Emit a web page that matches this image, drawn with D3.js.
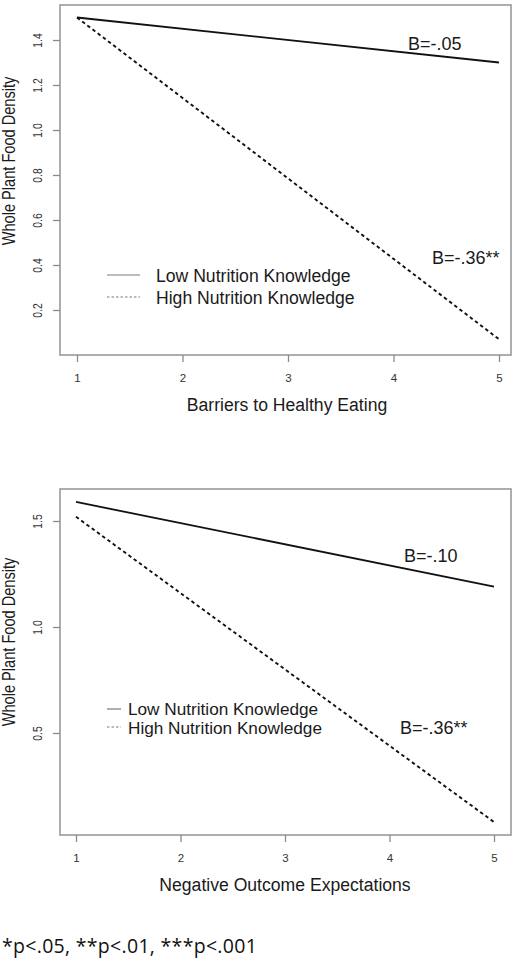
<!DOCTYPE html>
<html>
<head>
<meta charset="utf-8">
<script src="https://cdn.jsdelivr.net/npm/d3@7"></script>
<style>
  html, body { margin: 0; padding: 0; background: #fff; }
  svg { display: block; }
</style>
</head>
<body>
<svg id="chart" width="520" height="960"></svg>
<script>
// ---------- data ----------
const xValues = [1, 5];
const xTicks = [1, 2, 3, 4, 5];
const seriesNames = ["Low Nutrition Knowledge", "High Nutrition Knowledge"];
const yTitle = "Whole Plant Food Density";

const topXTitle = "Barriers to Healthy Eating";
const topLow = [1.50, 1.30];
const topHigh = [1.50, 0.07];
const topYTicks = [0.2, 0.4, 0.6, 0.8, 1.0, 1.2, 1.4];
const topLabels = ["B=-.05", "B=-.36**"];

const bottomXTitle = "Negative Outcome Expectations";
const bottomLow = [1.59, 1.19];
const bottomHigh = [1.52, 0.08];
const bottomYTicks = [0.5, 1.0, 1.5];
const bottomLabels = ["B=-.10", "B=-.36**"];

const footnote = "*p<.05, **p<.01, ***p<.001";

// ---------- drawing ----------
const svg = d3.select("#chart");
const FONT = "'Liberation Sans', Arial, sans-serif";
const SQ = 0.83; // length compression of rotated text

function panel(cfg) {
  const g = svg.append("g");
  const x = d3.scaleLinear().domain([1, 5]).range(cfg.xRange);
  const y = d3.scaleLinear().domain(cfg.yDomain).range(cfg.yRange);

  // box
  g.append("rect")
    .attr("x", cfg.box[0]).attr("y", cfg.box[1])
    .attr("width", cfg.box[2] - cfg.box[0]).attr("height", cfg.box[3] - cfg.box[1])
    .attr("fill", "none").attr("stroke", "#9a9a9a").attr("stroke-width", 1.6);

  // x axis
  const xa = g.append("g").attr("transform", `translate(0,${cfg.box[3]})`)
    .call(d3.axisBottom(x).tickValues(xTicks).tickFormat(d3.format("d")).tickSize(7).tickSizeOuter(0));
  xa.select(".domain").remove();
  xa.selectAll(".tick line").attr("stroke", "#8a8a8a").attr("stroke-width", 1.3);
  xa.selectAll(".tick text").attr("font-family", FONT).attr("font-size", 11.5)
    .attr("fill", "#333").attr("y", cfg.xTickDy).attr("dy", 0);

  // y axis
  const ya = g.append("g").attr("transform", `translate(${cfg.box[0]},0)`)
    .call(d3.axisLeft(y).tickValues(cfg.yTicks).tickFormat(d3.format(".1f")).tickSize(7).tickSizeOuter(0));
  ya.select(".domain").remove();
  ya.selectAll(".tick line").attr("stroke", "#8a8a8a").attr("stroke-width", 1.3);
  ya.selectAll(".tick text").attr("font-family", FONT).attr("font-size", 12.5)
    .attr("fill", "#333").attr("x", null).attr("dy", null)
    .attr("text-anchor", "middle")
    .attr("transform", `translate(-18,0) rotate(-90) scale(${SQ},1)`);

  // axis titles
  g.append("text").attr("x", cfg.xTitlePos[0]).attr("y", cfg.xTitlePos[1])
    .attr("text-anchor", "middle").attr("font-family", FONT).attr("font-size", 17.6)
    .attr("fill", "#1a1a1a").text(cfg.xTitle);
  g.append("text")
    .attr("transform", `translate(${cfg.yTitlePos[0]},${cfg.yTitlePos[1]}) rotate(-90) scale(${SQ},1)`)
    .attr("text-anchor", "middle").attr("font-family", FONT).attr("font-size", 17.6)
    .attr("fill", "#1a1a1a").text(yTitle);

  // lines
  const line = d3.line().x((d, i) => x(xValues[i])).y(d => y(d));
  g.append("path").datum(cfg.low).attr("d", line)
    .attr("fill", "none").attr("stroke", "#111").attr("stroke-width", 1.8);
  g.append("path").datum(cfg.high).attr("d", line)
    .attr("fill", "none").attr("stroke", "#111").attr("stroke-width", 1.9)
    .attr("stroke-dasharray", "3.5,3");

  // slope labels
  cfg.labels.forEach((t, i) => {
    g.append("text").attr("x", x(cfg.labelPos[i][0])).attr("y", y(cfg.labelPos[i][1]))
      .attr("font-family", FONT).attr("font-size", 18).attr("fill", "#1a1a1a")
      .text(t);
  });

  // legend
  const L = cfg.legend;
  seriesNames.forEach((n, i) => {
    g.append("line").attr("x1", L.x1).attr("x2", L.x2).attr("y1", L.ys[i]).attr("y2", L.ys[i])
      .attr("stroke", "#7a7a7a").attr("stroke-width", 1.2)
      .attr("stroke-dasharray", i === 1 ? "2.5,2" : null);
    g.append("text").attr("x", L.tx).attr("y", L.tys[i])
      .attr("font-family", FONT).attr("font-size", L.fs).attr("fill", "#1a1a1a").text(n);
  });
}

panel({
  xRange: [77, 499], yDomain: [0.2, 1.4], yRange: [310, 40],
  box: [60, 5, 511, 355], yTicks: topYTicks, xTickDy: 27,
  xTitle: topXTitle, xTitlePos: [287, 411], yTitlePos: [15, 161],
  low: topLow, high: topHigh,
  labels: topLabels, labelPos: [[4.137, 1.356], [4.365, 0.404]],
  legend: { x1: 107, x2: 140, ys: [275, 297], tx: 156, tys: [282, 303.5], fs: 17.6 }
});

panel({
  xRange: [76, 494], yDomain: [0.5, 1.5], yRange: [733, 521],
  box: [60, 489, 511, 835], yTicks: bottomYTicks, xTickDy: 27,
  xTitle: bottomXTitle, xTitlePos: [285, 891], yTitlePos: [15, 642],
  low: bottomLow, high: bottomHigh,
  labels: bottomLabels, labelPos: [[4.139, 1.307], [4.10, 0.495]],
  legend: { x1: 107, x2: 121, ys: [709, 727], tx: 128, tys: [714.5, 734], fs: 17.2 }
});

svg.append("text").attr("x", 2).attr("y", 953)
  .attr("font-family", "'Open Sans', 'Noto Sans', sans-serif").attr("font-size", 19.5)
  .attr("letter-spacing", 0.3)
  .attr("fill", "#111").text(footnote);
</script>
</body>
</html>
